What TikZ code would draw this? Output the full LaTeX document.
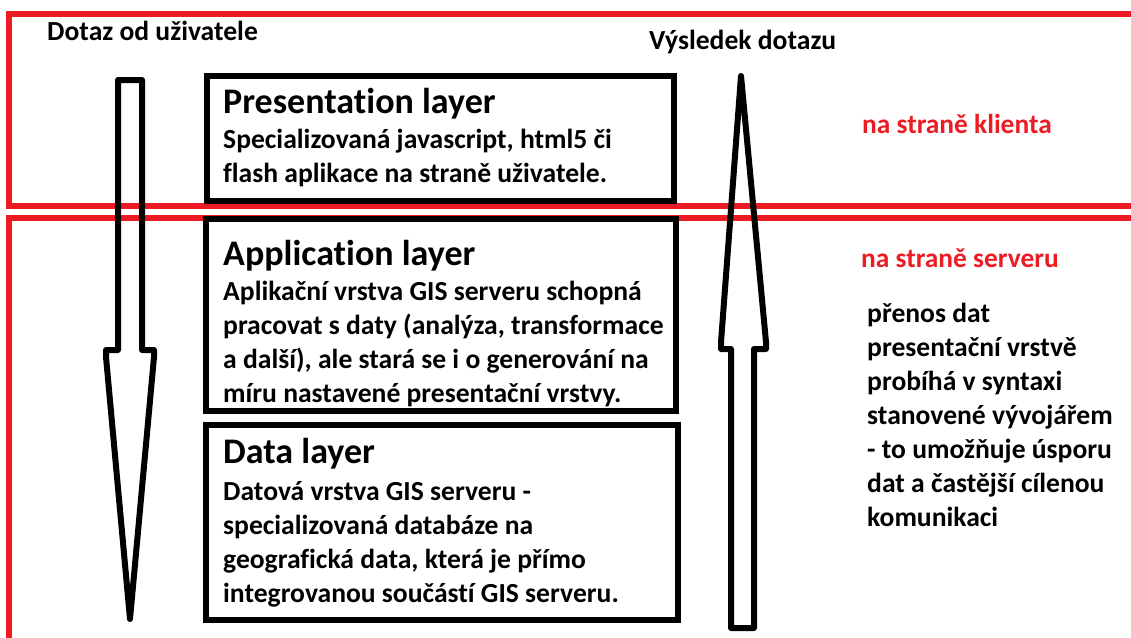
\documentclass[tikz,border=0pt]{standalone}
\usepackage{fontspec}
\setmainfont{Carlito}[Ligatures=NoCommon]
\definecolor{paintred}{RGB}{237,28,36}
\tikzset{
  frame/.style={draw=paintred, line width=6pt},
  layerbox/.style={draw=black, line width=6pt},
  flowarrow/.style={draw=black, line width=6pt, line join=round},
  title/.style={anchor=base west, inner sep=0pt, font=\bfseries\fontsize{36}{42}\selectfont},
  body/.style={anchor=base west, inner sep=0pt, font=\bfseries\fontsize{27.6}{34}\selectfont},
  redlabel/.style={anchor=base west, inner sep=0pt, text=paintred, font=\bfseries\fontsize{27.4}{34}\selectfont},
}
\newcommand{\lines}[2]{\parbox[t]{#1}{\raggedright\setlength\baselineskip{34pt}#2}}
\begin{document}
\begin{tikzpicture}[x=1pt,y=-1pt]
\useasboundingbox (0,0) rectangle (1131,637);
\clip (0,0) rectangle (1131,637);

% client and server zones, open to the right
\draw[frame] (1140,14) -- (9,14) -- (9,206) -- (1140,206);
\draw[frame] (1140,218) -- (9,218) -- (9,650);

% the three layers
\draw[layerbox] (207,76) rectangle (674,201);
\draw[layerbox] (206,219) rectangle (676,411);
\draw[layerbox] (206,425) rectangle (678,620);

% request going down
\draw[flowarrow] (118,80) -- (142,80) -- (142,350) -- (154,350) -- (154,357)
  -- (130,619) -- (106,357) -- (106,350) -- (118,350) -- cycle;
% result going up
\draw[flowarrow] (741,76) -- (766,342) -- (766,349) -- (754,349) -- (754,628)
  -- (731,628) -- (731,349) -- (721,349) -- (721,342) -- cycle;

\node[body] (dotaz) at (47,40) {Dotaz od uživatele};
\node[body] (vysledek) at (649,49) {Výsledek dotazu};

\node[title] (pres) at (223,113) {Presentation layer};
\node[body] (prestxt) at (223,148) {\lines{440pt}{Specializovaná javascript, html5 či\\flash aplikace na straně uživatele.}};

\node[title] (app) at (223,265) {Application layer};
\node[body] (apptxt) at (223,300) {\lines{450pt}{Aplikační vrstva GIS serveru schopná\\pracovat s daty (analýza, transformace\\a další), ale stará se i o generování na\\míru nastavené presentační vrstvy.}};

\node[title] (data) at (223,463) {Data layer};
\node[body] (datatxt) at (223,500) {\lines{450pt}{Datová vrstva GIS serveru -\\specializovaná databáze na\\geografická data, která je přímo\\integrovanou součástí GIS serveru.}};

\node[redlabel] (klient) at (862,133) {na straně klienta};
\node[redlabel] (server) at (861,267) {na straně serveru};

\node[body] (prenos) at (867,322) {\lines{260pt}{přenos dat\\presentační vrstvě\\probíhá v syntaxi\\stanovené vývojářem\\- to umožňuje úsporu\\dat a častější cílenou\\komunikaci}};
\end{tikzpicture}
\end{document}
